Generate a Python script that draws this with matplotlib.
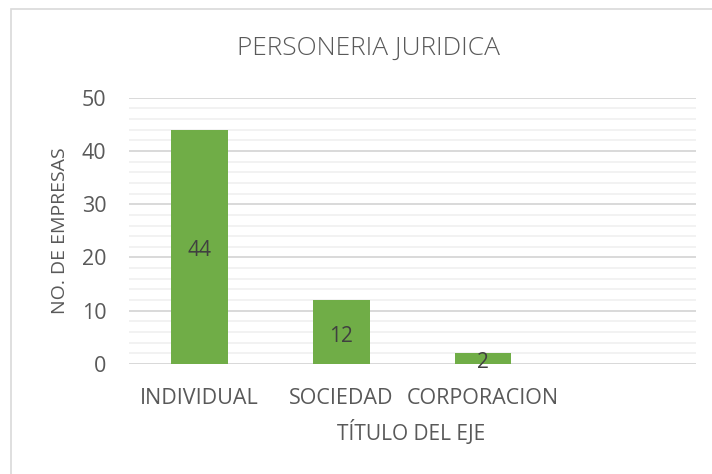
import matplotlib
matplotlib.use("Agg")
import matplotlib.pyplot as plt
from matplotlib.patches import Rectangle
import numpy as np

categories = ["INDIVIDUAL", "SOCIEDAD", "CORPORACION", ""]
values = [44, 12, 2, None]
yticks = [0, 10, 20, 30, 40, 50]
title = "PERSONERIA JURIDICA"
ylabel = "NO. DE EMPRESAS"
xlabel = "TÍTULO DEL EJE"

plt.rcParams['font.family'] = ['Open Sans', 'DejaVu Sans']
TXT = "#595959"

W, H = 712, 474
fig = plt.figure(figsize=(W/100, H/100), dpi=100)
fig.patch.set_facecolor("white")

# outer chart frame
fig.add_artist(Rectangle((11/W, -0.1), 1.2, (H-9)/H + 0.1, transform=fig.transFigure,
                         fill=False, edgecolor="#d9d9d9", linewidth=1.2))

ax = fig.add_axes([128.6/W, (H-364)/H, (695.5-128.6)/W, (364-97.7)/H])
x = np.arange(len(categories))
plot_x = [xi for xi, v in zip(x, values) if v is not None]
plot_v = [v for v in values if v is not None]
bars = ax.bar(plot_x, plot_v, width=0.4, color="#70ad47", zorder=3)
for xi, v in zip(plot_x, plot_v):
    ax.annotate(str(v), (xi, v / 2), xytext=(0, -3), textcoords='offset points',
                ha='center', va='center', color="#404040", fontsize=15, zorder=4)

ax.set_xlim(-0.5, len(categories)-0.5)
ax.set_ylim(0, 50)
ax.set_yticks(yticks)
ax.set_yticks(np.arange(0, 51, 2), minor=True)
ax.grid(axis='y', which='major', color="#d9d9d9", linewidth=1.4, zorder=0)
ax.grid(axis='y', which='minor', color="#f2f2f2", linewidth=1.4, zorder=0)
ax.set_xticks(x)
ax.set_xticklabels(categories)
for s in ax.spines.values():
    s.set_visible(False)
ax.axhline(0, color="#d9d9d9", linewidth=1.4, zorder=2)
ax.tick_params(axis='both', which='both', length=0, colors=TXT, labelsize=15.5)
ax.tick_params(axis='y', pad=16)
ax.tick_params(axis='x', pad=17)

fig.text(411/W, 1-432/H, xlabel, ha='center', va='center', color=TXT, fontsize=15)
fig.text(60/W, 1-231/H, ylabel, ha='center', va='center', rotation=90, color=TXT, fontsize=14)
fig.text(368/W, 1-48/H, title, ha='center', va='center', color=TXT, fontsize=19,
         fontweight='light')

fig.savefig("out.png", dpi=100, facecolor="white")
